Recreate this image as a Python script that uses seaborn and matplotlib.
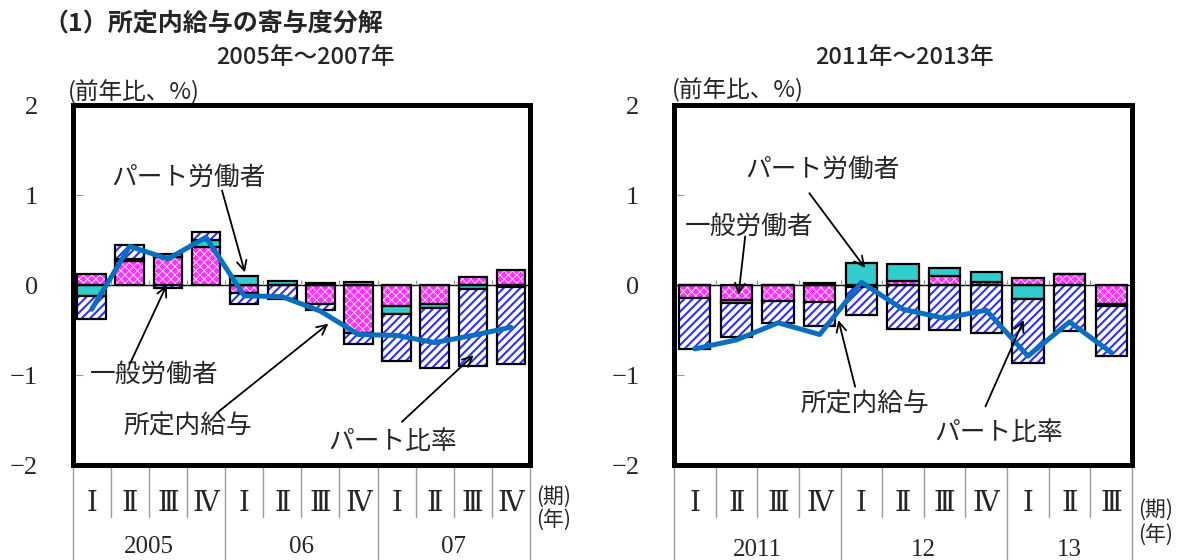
import numpy as np
import matplotlib
matplotlib.use("Agg")
import matplotlib.pyplot as plt
import seaborn as sns

# ---- data: contributions to the year-on-year change (%) ----
quarters_a = ["Ⅰ", "Ⅱ", "Ⅲ", "Ⅳ"] * 3
years_a = ["2005", "06", "07"]
general_a = [0.12, 0.27, 0.31, 0.42, -0.09, 0.00, -0.21, -0.53, -0.23, -0.21, 0.09, 0.17]
part_a = [-0.12, 0.02, 0.04, 0.08, 0.10, 0.04, 0.02, 0.03, -0.09, -0.05, -0.04, -0.02]
ratio_a = [-0.26, 0.15, -0.03, 0.09, -0.12, -0.15, -0.07, -0.12, -0.52, -0.66, -0.86, -0.86]
wage_a = [-0.27, 0.43, 0.29, 0.53, -0.12, -0.13, -0.29, -0.55, -0.56, -0.64, -0.56, -0.47]

quarters_b = ["Ⅰ", "Ⅱ", "Ⅲ", "Ⅳ"] * 2 + ["Ⅰ", "Ⅱ", "Ⅲ"]
years_b = ["2011", "12", "13"]
general_b = [-0.14, -0.17, -0.18, -0.19, -0.02, 0.04, 0.10, 0.03, 0.08, 0.12, -0.21]
part_b = [0.00, -0.03, 0.00, 0.02, 0.25, 0.19, 0.09, 0.11, -0.16, 0.00, -0.02]
ratio_b = [-0.57, -0.38, -0.24, -0.26, -0.31, -0.49, -0.50, -0.53, -0.71, -0.51, -0.56]
wage_b = [-0.71, -0.61, -0.42, -0.55, 0.03, -0.27, -0.37, -0.28, -0.79, -0.41, -0.75]

y_ticks = [-2, -1, 0, 1, 2]
y_ticklabels = ["−2", "−1", "0", "1", "2"]

sns.set_style("white")
JP = ["Noto Sans CJK JP", "DejaVu Sans"]
SERIF = ["Liberation Serif", "DejaVu Serif"]
ROMAN = ["DejaVu Serif", "Noto Sans CJK JP"]
plt.rcParams["font.family"] = JP
plt.rcParams["hatch.linewidth"] = 1.0

# segment styles: face colour, hatch, hatch colour, hatch line width
STYLES = [
    ("#ff33ff", "xxxx", "white", 0.55),     # 一般労働者
    ("#33cccc", None, None, None),          # パート労働者
    ("white", "////", "#2f2fff", 1.5),      # パート比率
]
LINE_COLOR = "#0a6fbd"
GRID_GRAY = "#9a9a9a"


def stack_bottoms(components):
    n = len(components[0])
    pos = np.zeros(n)
    neg = np.zeros(n)
    bottoms = []
    for comp in components:
        c = np.asarray(comp, dtype=float)
        bottoms.append(np.where(c >= 0, pos, neg))
        pos = pos + np.clip(c, 0, None)
        neg = neg + np.clip(c, None, 0)
    return bottoms


def draw_panel(ax, quarters, years, year_groups, comps, wage,
               period_y, year_y, qlabel_y, annots):
    n = len(quarters)
    xpos = np.arange(n)
    bottoms = stack_bottoms(comps)
    for comp, bottom, (face, hatch, hcol, hlw) in zip(comps, bottoms, STYLES):
        common = dict(x=xpos, y=comp, bottom=bottom, native_scale=True,
                      width=0.75, errorbar=None, saturation=1, ax=ax)
        sns.barplot(color=face, edgecolor="none", linewidth=0, **common)
        if hatch:
            before = len(ax.patches)
            with plt.rc_context({"hatch.linewidth": hlw}):
                sns.barplot(color=face, facecolor="none", edgecolor=hcol,
                            linewidth=0, hatch=hatch, **common)
            for p in ax.patches[before:]:
                if hasattr(p, "set_hatch_linewidth"):
                    p.set_hatch_linewidth(hlw)
        sns.barplot(color=face, facecolor="none", edgecolor="black",
                    linewidth=1.6, **common)

    sns.lineplot(x=xpos, y=wage, color=LINE_COLOR, lw=3.6, ax=ax,
                 legend=False, zorder=4)

    ax.axhline(0, color="black", lw=1.0, zorder=3)
    # small ticks on the zero line between quarters
    ax.vlines(np.arange(n - 1) + 0.5, 0, 0.055, color=GRID_GRAY, lw=0.9, zorder=3)

    ax.set_xlim(-0.5, n - 0.5)
    ax.set_ylim(-2, 2)
    ax.set_xticks([])
    ax.set_yticks(y_ticks)
    ax.set_yticklabels(y_ticklabels, family=SERIF, fontsize=19)
    ax.tick_params(axis="y", direction="in", length=7, width=0.8,
                   color=GRID_GRAY, pad=25, left=True)
    ax.set_xlabel("")
    ax.set_ylabel("")
    for sp in ax.spines.values():
        sp.set_visible(True)
        sp.set_color("black")
        sp.set_linewidth(3.6)
        sp.set_zorder(6)

    # period / year table under the axes
    tr = ax.get_xaxis_transform()
    year_edges = [-0.5]
    acc = -0.5
    for g in year_groups:
        acc += g
        year_edges.append(acc)
    for b in np.arange(n + 1) - 0.5:
        bottom_y = -0.27 if any(abs(b - e) < 1e-9 for e in year_edges) else -0.145
        ax.plot([b, b], [0, bottom_y], transform=tr, color=GRID_GRAY,
                lw=1.0, clip_on=False, zorder=1)
    for i, q in enumerate(quarters):
        ax.text(i, qlabel_y, q, transform=tr, ha="center", va="center",
                family=ROMAN, fontsize=20)
    for lab, lo, hi in zip(years, year_edges[:-1], year_edges[1:]):
        ax.text((lo + hi) / 2, year_y, lab, transform=tr, ha="center",
                va="center", family=SERIF, fontsize=18)
    ax.text(n - 0.5 + 0.15, period_y[0], "(期)", transform=tr, ha="left",
            va="center", fontsize=15)
    ax.text(n - 0.5 + 0.15, period_y[1], "(年)", transform=tr, ha="left",
            va="center", fontsize=15)

    for label, txt_xy, start, tip in annots:
        ax.text(*txt_xy, label, ha="center", va="center", fontsize=18.5,
                zorder=7)
        ax.annotate("", xy=tip, xytext=start,
                    arrowprops=dict(arrowstyle="->,head_length=0.7,head_width=0.35",
                                    color="black", lw=1.3, shrinkA=0, shrinkB=0),
                    zorder=7)


fig = plt.figure(figsize=(11.86, 5.6), dpi=100)
W, H = 1186, 560
ax1 = fig.add_axes([72.6 / W, (H - 465) / H, 457.4 / W, 360 / H])
ax2 = fig.add_axes([674 / W, (H - 465) / H, 458 / W, 360 / H])

annots_a = [
    ("パート労働者", (2.55, 1.19), (3.42, 1.05), (4.02, 0.14)),
    ("一般労働者", (1.64, -1.00), (1.01, -0.87), (1.97, 0.0)),
    ("所定内給与", (2.52, -1.57), (3.32, -1.41), (6.21, -0.43)),
    ("パート比率", (7.91, -1.74), (8.14, -1.52), (10.02, -0.78)),
]
annots_b = [
    ("パート労働者", (3.07, 1.28), (2.75, 1.02), (4.09, 0.19)),
    ("一般労働者", (1.30, 0.65), (1.21, 0.54), (1.05, -0.11)),
    ("所定内給与", (4.09, -1.33), (3.85, -1.13), (3.45, -0.39)),
    ("パート比率", (7.29, -1.64), (6.98, -1.35), (7.90, -0.39)),
]

draw_panel(ax1, quarters_a, years_a, [4, 4, 4],
           [general_a, part_a, ratio_a], wage_a,
           period_y=(-0.089, -0.153), year_y=-0.228, qlabel_y=-0.106,
           annots=annots_a)
draw_panel(ax2, quarters_b, years_b, [4, 4, 3],
           [general_b, part_b, ratio_b], wage_b,
           period_y=(-0.125, -0.194), year_y=-0.236, qlabel_y=-0.106,
           annots=annots_b)

fig.text(43 / W, 1 - 25 / H, "（1）所定内給与の寄与度分解", ha="left",
         va="center", fontsize=18, weight="bold")
fig.text(305 / W, 1 - 57 / H, "2005年～2007年", ha="center", va="center",
         fontsize=17, weight="medium")
fig.text(904 / W, 1 - 57 / H, "2011年～2013年", ha="center", va="center",
         fontsize=17, weight="medium")
fig.text(68 / W, 1 - 92 / H, "(前年比、%)", ha="left", va="center",
         fontsize=17)
fig.text(672 / W, 1 - 90 / H, "(前年比、%)", ha="left", va="center",
         fontsize=17)

fig.savefig("out.png", dpi=100, facecolor="white")
